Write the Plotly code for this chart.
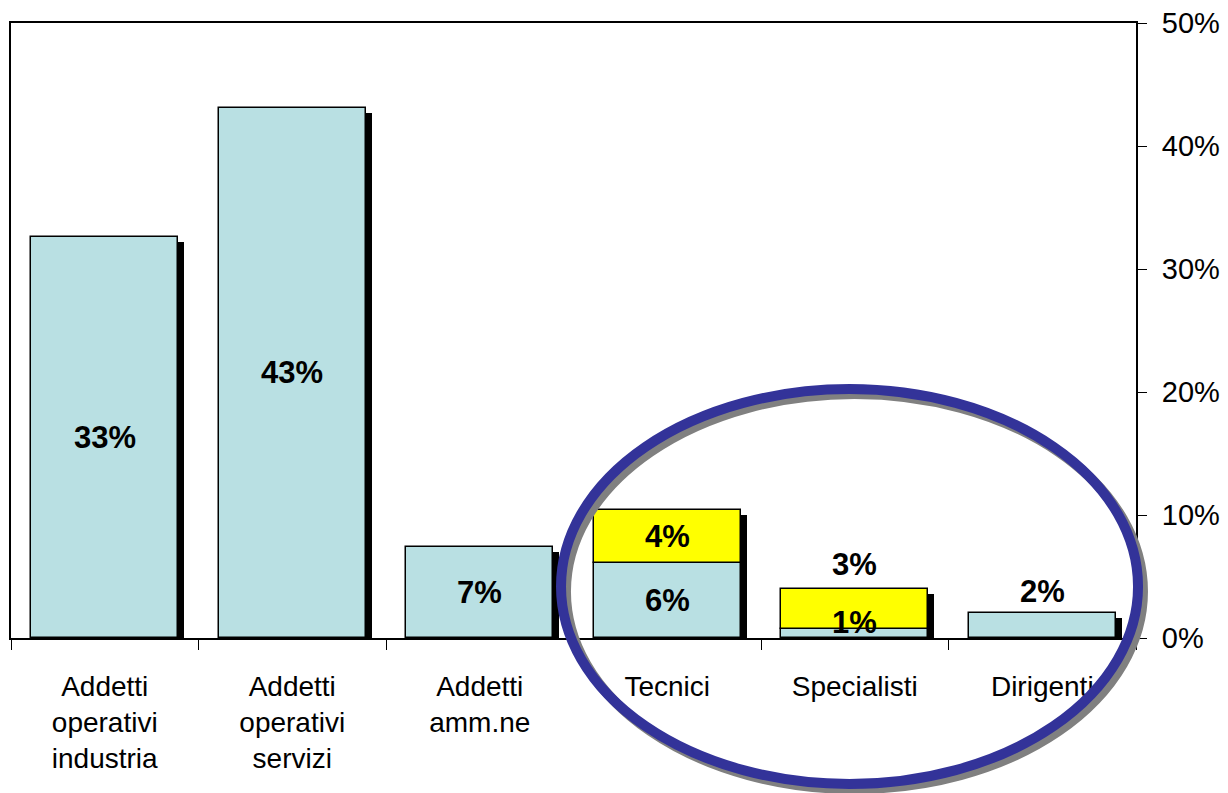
import plotly.graph_objects as go

categories = ["Addetti<br>operativi<br>industria", "Addetti<br>operativi<br>servizi",
              "Addetti<br>amm.ne", "Tecnici", "Specialisti", "Dirigenti"]
base_values = [32.6, 43.1, 7.4, 6.1, 0.7, 2.0]
extra_values = [0, 0, 0, 4.3, 3.3, 0]
base_labels = ["33%", "43%", "7%", "6%", "1%", "2%"]
extra_labels = ["", "", "", "4%", "3%", ""]
# label placement: "mid" = centred on segment, "top" = above the whole bar
base_label_pos = ["mid", "mid", "mid", "mid", "mid", "top"]
base_label_shift = [0, 0, 0, 0, 11, 22]
extra_label_pos = ["mid", "mid", "mid", "mid", "top", "mid"]
extra_label_shift = [0, 0, 0, 0, 24, 0]
y_ticks = [0, 10, 20, 30, 40, 50]

BLUE = "#B9E0E3"
YELLOW = "#FFFF00"
BAR_W = 0.785
SHADOW_DX = 0.032
SHADOW_DY = 0.41
LABEL_FONT = dict(family="Liberation Sans, Arial", size=31, color="black")

totals = [b + e for b, e in zip(base_values, extra_values)]

fig = go.Figure()
fig.add_trace(go.Bar(
    x=categories, y=totals, base=[-SHADOW_DY] * len(totals),
    width=BAR_W, offset=-BAR_W / 2 + SHADOW_DX,
    marker=dict(color="black", line=dict(width=0)), hoverinfo="skip", showlegend=False))
fig.add_trace(go.Bar(
    x=categories, y=base_values, base=[0] * len(base_values),
    width=BAR_W, offset=-BAR_W / 2,
    marker=dict(color=BLUE, line=dict(color="black", width=1.5)), showlegend=False))
fig.add_trace(go.Bar(
    x=[c for c, e in zip(categories, extra_values) if e > 0],
    y=[e for e in extra_values if e > 0],
    base=[b for b, e in zip(base_values, extra_values) if e > 0],
    width=BAR_W, offset=-BAR_W / 2,
    marker=dict(color=YELLOW, line=dict(color="black", width=1.5)), showlegend=False))

for i, cat in enumerate(categories):
    for lab, pos, sh, lo, val in [
        (base_labels[i], base_label_pos[i], base_label_shift[i], 0, base_values[i]),
        (extra_labels[i], extra_label_pos[i], extra_label_shift[i], base_values[i], extra_values[i]),
    ]:
        if not lab:
            continue
        y = lo + val / 2 if pos == "mid" else totals[i]
        fig.add_annotation(x=cat, y=y, text=f"<b>{lab}</b>", showarrow=False,
                           xref="x", yref="y", yanchor="middle", yshift=sh,
                           font=LABEL_FONT)

# highlight ellipse (shadow then blue ring)
fig.add_shape(type="circle", xref="paper", yref="paper",
              x0=0.4933, x1=1.0062, y0=-0.2455, y1=0.3968,
              line=dict(color="#808080", width=10), layer="above")
fig.add_shape(type="circle", xref="paper", yref="paper",
              x0=0.4889, x1=1.0018, y0=-0.2374, y1=0.4049,
              line=dict(color="#333399", width=10), layer="above")

fig.update_layout(
    width=1220, height=785,
    margin=dict(l=3, r=92, t=15, b=155, autoexpand=False),
    paper_bgcolor="white", plot_bgcolor="white",
    barmode="overlay", bargap=0,
    font=dict(family="Liberation Sans, Arial", color="black"),
    xaxis=dict(type="category", showline=True, linecolor="black", linewidth=2,
               mirror=True, ticks="outside", tickson="boundaries", ticklen=10,
               tickcolor="black", tickfont=dict(size=28, color="black"),
               ticklabelstandoff=22,
               showgrid=False, zeroline=False),
    yaxis=dict(side="right", range=[0, 50], tickvals=y_ticks,
               ticktext=[f"{v}%" for v in y_ticks],
               showline=True, linecolor="black", linewidth=2, mirror=True,
               ticks="outside", ticklen=9, tickcolor="black",
               tickfont=dict(size=29, color="black"), ticklabelstandoff=9,
               ticklabeloverflow="allow",
               showgrid=False, zeroline=False),
)

fig.write_html("out.html")
